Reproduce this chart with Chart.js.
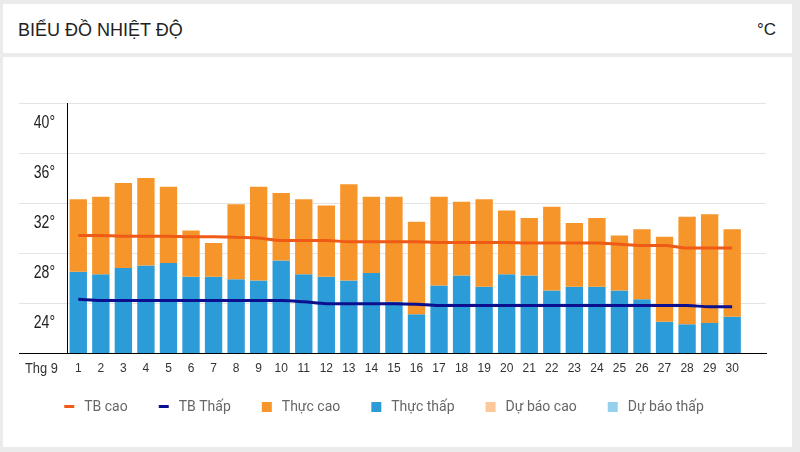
<!DOCTYPE html>
<html>
<head>
<meta charset="utf-8">
<script src="https://cdn.jsdelivr.net/npm/chart.js@4.4.1/dist/chart.umd.min.js"></script>
<style>
  body { margin: 0; background: #ebebeb; width: 800px; height: 452px; overflow: hidden; position: relative; font-family: 'Liberation Sans', Arial, sans-serif; }
  .card { position: absolute; background: #fff; left: 3px; width: 789px; }
  #head { top: 4px; height: 49px; }
  #head .title { position: absolute; left: 15px; top: 16px; font-size: 18px; color: #222; }
  #head .unit { position: absolute; right: 16px; top: 16px; font-size: 17px; color: #222; }
  #main { top: 57px; height: 390px; }
  #chart { position: absolute; left: 0; top: 0; }
</style>
</head>
<body>
<div class="card" id="head"><span class="title">BIỂU ĐỒ NHIỆT ĐỘ</span><span class="unit">°C</span></div>
<div class="card" id="main"></div>
<canvas id="chart" width="800" height="452"></canvas>
<script>
var ngay = ['1','2','3','4','5','6','7','8','9','10','11','12','13','14','15','16','17','18','19','20','21','22','23','24','25','26','27','28','29','30',''];
var thuc_cao = [32.3, 32.5, 33.6, 34.0, 33.3, 29.8, 28.8, 31.9, 33.3, 32.8, 32.3, 31.8, 33.5, 32.5, 32.5, 30.5, 32.5, 32.1, 32.3, 31.4, 30.8, 31.7, 30.4, 30.8, 29.4, 29.9, 29.3, 30.9, 31.1, 29.9];
var thuc_thap = [26.5, 26.3, 26.8, 27.0, 27.2, 26.1, 26.1, 25.9, 25.8, 27.4, 26.3, 26.1, 25.8, 26.4, 24.1, 23.1, 25.4, 26.2, 25.3, 26.3, 26.2, 25.0, 25.3, 25.3, 25.0, 24.3, 22.5, 22.3, 22.4, 22.9];
var tb_cao = [29.4, 29.4, 29.35, 29.35, 29.35, 29.3, 29.3, 29.25, 29.2, 29.0, 29.0, 29.0, 28.9, 28.9, 28.9, 28.9, 28.85, 28.85, 28.85, 28.85, 28.8, 28.8, 28.8, 28.8, 28.7, 28.6, 28.6, 28.4, 28.4, 28.4];
var tb_thap = [24.3, 24.2, 24.2, 24.2, 24.2, 24.2, 24.2, 24.2, 24.2, 24.2, 24.1, 23.95, 23.95, 23.95, 23.95, 23.9, 23.8, 23.8, 23.8, 23.8, 23.8, 23.8, 23.8, 23.8, 23.8, 23.8, 23.8, 23.8, 23.7, 23.7];
var du_bao_cao = [];
var du_bao_thap = [];
var y_ticks = [24, 28, 32, 36, 40];

var fontLib = "'Liberation Sans', Arial, sans-serif";

// cot cao la thanh noi tu thap -> cao
var cao_float = thuc_cao.map(function(v, i){ return [thuc_thap[i], v]; });

// o mau cho chu thich (co khoang trong ben trai)
function marker(color, h){
    var c = document.createElement('canvas');
    c.width = 29;
    c.height = h === 3 ? 4 : h;
    var g = c.getContext('2d');
    g.fillStyle = color;
    g.fillRect(16, 0, 10, h);
    return c;
}

// nhan truc y (chu hep, lech xuong duoi duong luoi) va "Thg 9"
var nhanTruc = {
    id: 'nhanTruc',
    afterDraw: function(chart){
        var ctx = chart.ctx;
        var ys = chart.scales.y;
        ctx.save();
        ctx.fillStyle = '#222';
        ctx.textAlign = 'right';
        ctx.textBaseline = 'middle';
        ctx.font = '18px ' + fontLib;
        y_ticks.forEach(function(v){
            ctx.save();
            ctx.translate(55, ys.getPixelForValue(v) + 20);
            ctx.scale(0.78, 1);
            ctx.fillText(v + '°', 0, 0);
            ctx.restore();
        });
        ctx.fillStyle = '#333';
        ctx.textAlign = 'left';
        ctx.font = '14px ' + fontLib;
        ctx.translate(25, chart.chartArea.bottom + 16);
        ctx.scale(0.92, 1);
        ctx.fillText('Thg 9', 0, 0);
        ctx.restore();
    }
};

var ctx = document.getElementById('chart').getContext('2d');
new Chart(ctx, {
    data: {
        labels: ngay,
        datasets: [{
            type: 'line',
            label: 'TB cao',
            data: tb_cao,
            borderColor: '#ef5a16',
            backgroundColor: '#ef5a16',
            borderWidth: 3,
            pointRadius: 0,
            cubicInterpolationMode: 'monotone'
        }, {
            type: 'line',
            label: 'TB Thấp',
            data: tb_thap,
            borderColor: '#0c0f8e',
            backgroundColor: '#0c0f8e',
            borderWidth: 3,
            pointRadius: 0,
            cubicInterpolationMode: 'monotone'
        }, {
            type: 'bar',
            label: 'Thực cao',
            data: cao_float,
            backgroundColor: '#f6962a',
            grouped: false
        }, {
            type: 'bar',
            label: 'Thực thấp',
            data: thuc_thap,
            backgroundColor: '#2c9cd9',
            grouped: false
        }, {
            type: 'bar',
            label: 'Dự báo cao',
            data: du_bao_cao,
            backgroundColor: '#fcc89b',
            grouped: false
        }, {
            type: 'bar',
            label: 'Dự báo thấp',
            data: du_bao_thap,
            backgroundColor: '#96d0ef',
            grouped: false
        }]
    },
    options: {
        responsive: false,
        animation: false,
        barPercentage: 0.77,
        categoryPercentage: 1,
        layout: { padding: { left: -14, right: 34, top: 103, bottom: 28 } },
        scales: {
            x: {
                grid: { display: false, drawTicks: false, tickLength: 0 },
                border: { color: '#000' },
                ticks: { font: { size: 12, family: fontLib }, color: '#333', padding: 8.8, maxRotation: 0, autoSkip: false }
            },
            y: {
                min: 20,
                max: 40,
                afterBuildTicks: function(scale){
                    scale.ticks = [20].concat(y_ticks).map(function(v){ return {value: v}; });
                },
                ticks: { display: false },
                grid: {
                    tickLength: 48,
                    color: function(c){ return c.tick && c.tick.value === 20 ? '#000' : '#e4e4e4'; }
                },
                border: { color: '#000' },
                afterFit: function(scale){ scale.width = 81; }
            }
        },
        plugins: {
            tooltip: { enabled: false },
            legend: {
                position: 'bottom',
                labels: {
                    usePointStyle: true,
                    pointStyleWidth: 29,
                    boxHeight: 10,
                    padding: 15,
                    color: '#666',
                    font: { size: 14, family: 'Roboto, sans-serif' },
                    generateLabels: function(chart){
                        var items = Chart.defaults.plugins.legend.labels.generateLabels(chart);
                        items.forEach(function(it){
                            var ds = chart.data.datasets[it.datasetIndex];
                            if (ds.type === 'line') {
                                it.pointStyle = marker(ds.borderColor, 3);
                            } else {
                                it.pointStyle = marker(ds.backgroundColor, 10);
                            }
                        });
                        return items;
                    }
                }
            }
        }
    },
    plugins: [nhanTruc]
});
</script>
</body>
</html>
